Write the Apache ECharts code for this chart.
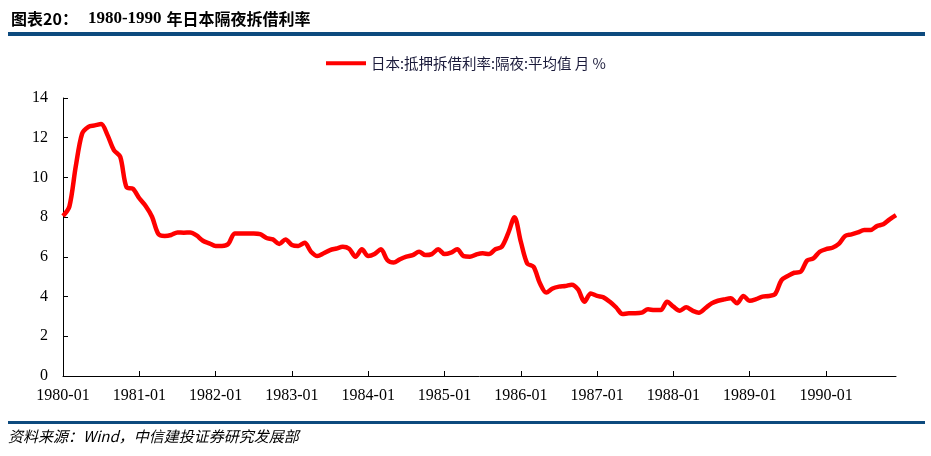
<!DOCTYPE html>
<html>
<head>
<meta charset="utf-8">
<script src="https://cdn.jsdelivr.net/npm/echarts@6/dist/echarts.min.js"></script>
<style>
  html, body { margin: 0; padding: 0; background: #fff; }
  #chart { width: 931px; height: 456px; }
</style>
</head>
<body>
<div id="chart"></div>
<script>
// 月份類別 1980-01 ~ 1990-12
const years = [1980, 1981, 1982, 1983, 1984, 1985, 1986, 1987, 1988, 1989, 1990];
const months = ['01', '02', '03', '04', '05', '06', '07', '08', '09', '10', '11', '12'];
const categories = [];
years.forEach(y => months.forEach(m => categories.push(y + '-' + m)));

// 日本:抵押拆借利率:隔夜:平均值 月 %
const rate = [
    8.06, 8.53, 10.54, 12.2, 12.55, 12.62, 12.69, 12.13, 11.38, 11.04, 9.5, 9.43,
    8.95, 8.56, 8.02, 7.15, 7.05, 7.1, 7.23, 7.22, 7.23, 7.08, 6.81, 6.68,
    6.55, 6.55, 6.65, 7.18, 7.18, 7.18, 7.18, 7.15, 6.95, 6.88, 6.65, 6.88,
    6.6, 6.55, 6.71, 6.26, 6.04, 6.18, 6.34, 6.42, 6.51, 6.41, 6.01, 6.38,
    6.04, 6.14, 6.38, 5.84, 5.71, 5.88, 6.01, 6.09, 6.26, 6.09, 6.14, 6.38,
    6.14, 6.21, 6.38, 6.04, 6.01, 6.12, 6.18, 6.14, 6.38, 6.51, 7.18, 7.99,
    6.76, 5.67, 5.5, 4.67, 4.2, 4.41, 4.5, 4.53, 4.6, 4.36, 3.74, 4.16,
    4.03, 3.96, 3.74, 3.45, 3.12, 3.16, 3.16, 3.19, 3.36, 3.32, 3.32, 3.74,
    3.49, 3.29, 3.46, 3.29, 3.19, 3.41, 3.66, 3.79, 3.86, 3.91, 3.66, 4.03,
    3.79, 3.87, 4.0, 4.03, 4.13, 4.83, 5.04, 5.2, 5.25, 5.81, 5.92, 6.26,
    6.39, 6.46, 6.65, 7.05, 7.13, 7.23, 7.35, 7.35, 7.55, 7.64, 7.89, 8.1
];

const yTicks = [0, 2, 4, 6, 8, 10, 12, 14];

const serif = '"Liberation Serif", "Times New Roman", serif';
const cjk = '"Noto Sans CJK SC", "Noto Sans", sans-serif';

const chart = echarts.init(document.getElementById('chart'));

const option = {
    animation: false,
    backgroundColor: '#fff',
    title: {
        left: 6,
        top: 5,
        text: '{a|图表20：}  {b|1980-1990} {a|年日本隔夜拆借利率}',
        textStyle: {
            rich: {
                a: { fontFamily: cjk, fontWeight: 'bold', fontSize: 16, color: '#000' },
                b: { fontFamily: serif, fontWeight: 'bold', fontSize: 17, color: '#000' },
            },
        },
    },
    legend: {
        top: 56,
        left: 326,
        padding: 0,
        itemWidth: 40,
        itemHeight: 4,
        icon: 'rect',
        itemGap: 5,
        textStyle: { fontFamily: cjk, fontSize: 14.5, color: '#1a1a3a' },
        data: ['日本:抵押拆借利率:隔夜:平均值 月 %'],
    },
    graphic: [
        { type: 'rect', left: 8, top: 32, shape: { width: 917, height: 4 }, style: { fill: '#0d4a7e' } },
        { type: 'rect', left: 8, top: 421, shape: { width: 917, height: 3 }, style: { fill: '#0d4a7e' } },
        {
            type: 'text', left: 8, top: 429,
            style: {
                text: '资料来源：Wind，中信建投证券研究发展部',
                font: 'italic 15px ' + cjk,
                fill: '#000',
            },
        },
    ],
    grid: { left: 63, right: 35, top: 98, bottom: 80 },
    xAxis: {
        type: 'category',
        data: categories,
        boundaryGap: false,
        axisLine: { lineStyle: { color: '#000', width: 1 } },
        axisTick: { inside: true, interval: 11, length: 5, lineStyle: { color: '#000' } },
        axisLabel: {
            interval: 11,
            margin: 12,
            color: '#000',
            fontFamily: serif,
            fontSize: 16,
        },
        splitLine: { show: false },
    },
    yAxis: {
        type: 'value',
        min: yTicks[0],
        max: yTicks[yTicks.length - 1],
        interval: 2,
        axisLine: { show: true, lineStyle: { color: '#000', width: 1 } },
        axisTick: { show: true, inside: true, length: 5, lineStyle: { color: '#000' } },
        axisLabel: { color: '#000', fontFamily: serif, fontSize: 16, margin: 15 },
        splitLine: { show: false },
    },
    series: [
        {
            name: '日本:抵押拆借利率:隔夜:平均值 月 %',
            type: 'line',
            data: rate,
            smooth: 0.3,
            showSymbol: false,
            lineStyle: { color: '#ff0000', width: 4.5 },
            itemStyle: { color: '#ff0000' },
        },
    ],
};

chart.setOption(option);
</script>
</body>
</html>
